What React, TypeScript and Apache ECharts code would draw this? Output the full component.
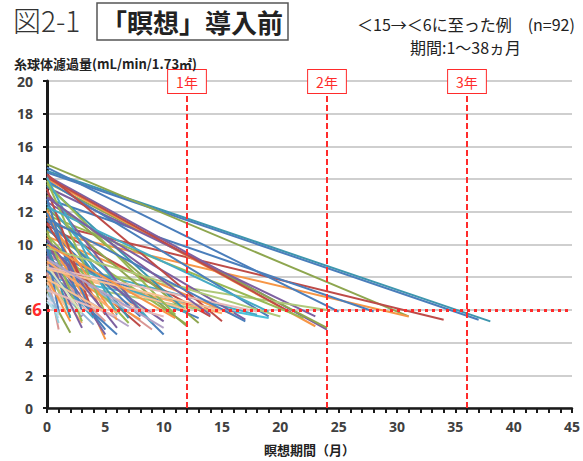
import React, { useEffect, useRef } from "react";
import * as echarts from "echarts";

// GFR at start (month 0)
const startGFR = [
  14.5, 14.4, 14.9, 11.3, 10.8, 14.7, 12.8, 14.2, 13.8, 14.0,
  13.5, 8.7, 8.0, 14.1, 11.8, 9.0, 13.9, 12.6, 10.5, 14.3,
  11.2, 9.6, 13.0, 8.4, 7.8, 10.9, 12.2, 9.3, 13.6, 8.6,
  13.7, 11.5, 9.5, 8.3, 10.2, 12.5, 9.9, 11.0, 8.9, 13.2,
  7.6, 10.6, 12.0, 9.2, 8.1, 11.7, 14.1, 12.1, 10.0, 9.4,
  8.8, 11.3, 13.9, 7.9, 8.5, 10.4, 7.3, 9.7, 8.2, 12.8,
  7.0, 6.8, 7.2, 8.3, 6.9, 7.5, 8.6, 7.7, 6.6, 10.1,
  9.8, 7.4, 8.0, 9.3, 6.5, 10.8, 11.9, 13.4, 8.4, 9.0,
  7.2, 10.3, 7.9, 8.7, 8.5, 8.6, 9.8, 11.6, 12.3, 10.0,
  9.1, 12.9,
];
// months until GFR < 6
const endMonth = [
  38, 37, 31, 34, 31, 25, 28, 24, 24, 23,
  23, 24, 19, 21, 22, 18, 19, 17, 16, 15,
  14, 13, 13, 15, 14, 12, 12, 12, 12, 12,
  11, 10, 9, 9, 10, 9, 8, 8, 8, 8,
  10, 7, 7, 7, 7, 6, 6, 5, 5, 5,
  5, 5, 5, 4, 4, 4, 4, 3, 3, 3,
  3, 3, 2, 1, 1, 1, 2, 2, 2, 2,
  1, 1, 2, 3, 1, 3, 4, 4, 6, 6,
  6, 6, 5, 3, 16, 18, 20, 17, 19, 11,
  10, 14,
];
// GFR at end point
const endGFR = [
  5.3, 5.4, 5.6, 5.4, 5.6, 5.9, 5.9, 4.8, 4.9, 5.0,
  5.6, 6.0, 5.5, 5.8, 5.5, 5.7, 5.6, 5.4, 5.7, 5.3,
  5.6, 5.5, 5.2, 5.8, 5.9, 5.1, 5.0, 5.8, 5.9, 6.0,
  5.7, 4.5, 4.8, 5.85, 5.3, 5.2, 5.0, 5.6, 5.4, 5.9,
  5.6, 5.2, 5.5, 5.9, 5.0, 5.4, 5.7, 4.2, 4.5, 4.8,
  5.3, 5.7, 5.8, 5.1, 5.5, 5.9, 5.8, 5.6, 5.2, 5.9,
  5.7, 5.9, 4.6, 4.8, 5.5, 5.2, 5.6, 5.9, 5.8, 5.5,
  5.9, 5.8, 5.3, 4.9, 5.7, 5.3, 5.6, 5.7, 4.5, 5.8,
  5.6, 4.9, 5.9, 5.8, 5.8, 5.9, 5.6, 5.3, 5.9, 5.5,
  4.9, 5.7,
];

const xTicks = [0, 5, 10, 15, 20, 25, 30, 35, 40, 45];
const yearLines = [12, 24, 36];
const yearLabels = ["1年", "2年", "3年"];
const thresholdGFR = 6;

const C = {
  teal: "#3d96ae", blue: "#4a7ebb", olive: "#8ea64f", red: "#be4b48",
  orange: "#f79646", purple: "#7d60a0", lgreen: "#afc97a", cyan: "#4bc0d9",
  green: "#98b954", aqua: "#46aac5", lorange: "#f9ab6b", peach: "#fac090",
  pink: "#d99694", lpink: "#e6b9b8", lblue: "#95b3d7", lpurple: "#b3a2c7",
  pblue: "#c6d9f1", ppink: "#f2dcdb", lteal: "#93cddd", ppurple: "#e4dfec",
  pteal: "#b7dee8", pgreen: "#d7e4bd",
};
const lineColors = [
  C.teal, C.blue, C.olive, C.red, C.orange, C.blue, C.blue, C.purple, C.olive, C.orange,
  C.purple, C.lgreen, C.cyan, C.red, C.green, C.aqua, C.blue, C.purple, C.orange, C.red,
  C.red, C.blue, C.olive, C.lorange, C.lgreen, C.green, C.olive, C.aqua, C.teal, C.peach,
  C.green, C.blue, C.pink, C.peach, C.purple, C.aqua, C.red, C.blue, C.orange, C.purple,
  C.lpink, C.green, C.teal, C.lblue, C.lpurple, C.orange, C.aqua, C.orange, C.purple, C.blue,
  C.pink, C.red, C.green, C.lblue, C.aqua, C.orange, C.lpink, C.purple, C.lorange, C.blue,
  C.pblue, C.ppink, C.olive, C.pink, C.pblue, C.lteal, C.lgreen, C.peach, C.ppurple, C.teal,
  C.blue, C.lblue, C.orange, C.purple, C.pteal, C.green, C.blue, C.red, C.blue, C.lorange,
  C.lpink, C.purple, C.peach, C.pgreen, C.peach, C.lpink, C.lgreen, C.blue, C.aqua, C.orange,
  C.lpurple, C.purple,
];

const FONT = "'Noto Sans CJK JP', 'Noto Sans', sans-serif";
const RED = "#ff2b2b";

export default function App() {
  const ref = useRef<HTMLDivElement>(null);
  useEffect(() => {
    document.body.style.margin = "0";
    if (!ref.current) return;
    const chart = echarts.init(ref.current, null, { renderer: "svg" });
    const lineSeries = startGFR.map((s, i) => ({
      type: "line",
      data: [
        [0, s],
        [endMonth[i], endGFR[i]],
      ],
      symbol: "none",
      silent: true,
      lineStyle: { width: 2, color: lineColors[i % lineColors.length] },
      z: 3,
    }));
    chart.setOption({
      animation: false,
      textStyle: { fontFamily: FONT },
      title: [
        {
          text: "図2-1",
          left: 8,
          top: 1,
          textStyle: { fontSize: 28, fontWeight: 300, color: "#333", fontFamily: FONT },
        },
        {
          text: "「瞑想」導入前",
          left: 97,
          top: 3,
          padding: [5, 5, 6, 4],
          borderColor: "#555",
          borderWidth: 1.5,
          textStyle: { fontSize: 26, fontWeight: "bold", color: "#222", fontFamily: FONT },
        },
        {
          text: "＜15→＜6に至った例　(n=92)",
          left: 352,
          top: 11,
          textStyle: { fontSize: 16, fontWeight: "normal", color: "#222", fontFamily: FONT },
        },
        {
          text: "期間:1〜38ヵ月",
          left: 405,
          top: 34,
          textStyle: { fontSize: 16, fontWeight: "normal", color: "#222", fontFamily: FONT },
        },
        {
          text: "糸球体濾過量(mL/min/1.73㎡)",
          left: 9,
          top: 52,
          textStyle: { fontSize: 13, fontWeight: "bold", color: "#222", fontFamily: FONT },
        },
      ],
      grid: { left: 47, right: 4, top: 81, bottom: 52, containLabel: false },
      xAxis: {
        type: "value",
        min: 0,
        max: 45,
        interval: 5,
        name: "瞑想期間（月）",
        nameLocation: "middle",
        nameGap: 35,
        nameTextStyle: { fontSize: 13, fontWeight: "bold", color: "#222", fontFamily: FONT },
        axisLine: { show: true, onZero: false, lineStyle: { color: "#1a1a1a", width: 2.5 } },
        axisTick: { show: true, length: 5, lineStyle: { color: "#1a1a1a", width: 2 } },
        minorTick: { show: true, splitNumber: 5, length: 5, lineStyle: { color: "#1a1a1a", width: 2 } },
        axisLabel: {
          margin: 11,
          fontSize: 14,
          fontWeight: "bold",
          color: "#404040",
          fontFamily: "'Noto Sans', sans-serif",
          formatter: (v: number) => (xTicks.includes(v) ? String(v) : ""),
        },
        splitLine: { show: false },
      },
      yAxis: {
        type: "value",
        min: 0,
        max: 20,
        interval: 2,
        axisLine: { show: true, lineStyle: { color: "#1a1a1a", width: 3 } },
        axisTick: { show: true, length: 4, lineStyle: { color: "#1a1a1a", width: 2 } },
        axisLabel: {
          margin: 14,
          fontSize: 14,
          fontWeight: "bold",
          color: "#404040",
          fontFamily: "'Noto Sans', sans-serif",
        },
        splitLine: { show: true, lineStyle: { color: "#bfbfbf", width: 1.5 } },
      },
      series: [
        ...lineSeries,
        {
          type: "line",
          data: [],
          silent: true,
          z: 5,
          markLine: {
            silent: true,
            symbol: ["none", "none"],
            animation: false,
            data: [
              ...yearLines.map((m, i) => ({
                xAxis: m,
                lineStyle: { color: RED, type: [6, 3], width: 2 },
                label: {
                  show: true,
                  position: "end",
                  distance: -12,
                  formatter: yearLabels[i],
                  color: RED,
                  fontSize: 14,
                  fontFamily: FONT,
                  backgroundColor: "#fff",
                  borderColor: RED,
                  borderWidth: 1,
                  padding: [5, 8, 4, 8],
                },
              })),
              {
                yAxis: thresholdGFR,
                lineStyle: { color: RED, type: [3, 4], width: 3 },
                label: {
                  show: true,
                  position: "start",
                  distance: 4,
                  formatter: String(thresholdGFR),
                  color: RED,
                  fontSize: 17,
                  fontWeight: "bold",
                  fontFamily: "'Noto Sans', sans-serif",
                  backgroundColor: "#fff",
                  padding: [0, 1, 4, 1],
                },
              },
            ],
          },
        },
      ],
    });
    return () => chart.dispose();
  }, []);
  return <div ref={ref} style={{ width: 583, height: 461 }} />;
}
